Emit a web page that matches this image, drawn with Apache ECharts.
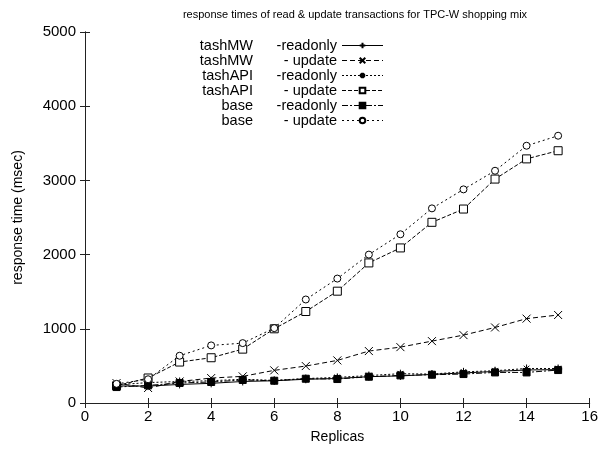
<!DOCTYPE html>
<html>
<head>
<meta charset="utf-8">
<script src="https://cdn.jsdelivr.net/npm/echarts@6/dist/echarts.min.js"></script>
<style>
  html, body { margin: 0; padding: 0; background: #fff; }
  #chart { width: 601px; height: 450px; }
</style>
</head>
<body>
<div id="chart"></div>
<script>
// Response times (msec) per number of replicas, TPC-W shopping mix
const replicas = [1, 2, 3, 4, 5, 6, 7, 8, 9, 10, 11, 12, 13, 14, 15];
const tashMWReadonly  = [230, 228, 250, 265, 290, 300, 320, 330, 355, 365, 385, 405, 425, 445, 450];
const tashMWUpdate    = [268, 202, 290, 336, 359, 440, 498, 574, 700, 753, 834, 915, 1018, 1137, 1186];
const tashAPIReadonly = [245, 275, 290, 300, 320, 305, 330, 345, 370, 395, 390, 420, 435, 465, 465];
const tashAPIUpdate   = [232, 337, 552, 610, 726, 1000, 1233, 1507, 1888, 2090, 2435, 2614, 3018, 3290, 3400];
const baseReadonly    = [215, 237, 270, 283, 310, 300, 327, 323, 354, 372, 381, 390, 412, 412, 444];
const baseUpdate      = [258, 320, 637, 776, 807, 1009, 1395, 1677, 2000, 2274, 2623, 2879, 3130, 3467, 3602];

const xTicks = { min: 0, max: 16, interval: 2 };
const yTicks = { min: 0, max: 5000, interval: 1000 };

const FONT = '"Liberation Sans", Arial, sans-serif';

const plusPath = 'path://M0,5L10,5M5,0L5,10';
const crossPath = 'path://M0,0L10,10M0,10L10,0';
const starPath = 'path://M0,5L10,5M5,0L5,10M1.5,1.5L8.5,8.5M1.5,8.5L8.5,1.5';

function pairs(values) {
  return replicas.map((r, i) => [r, values[i]]);
}

function lineSeries(name, values, symbol, size, dash, fill) {
  return {
    name: name,
    type: 'line',
    data: pairs(values),
    symbol: symbol,
    symbolSize: size,
    showSymbol: true,
    lineStyle: { color: '#000', width: 1, type: dash },
    itemStyle: { color: fill, borderColor: '#000', borderWidth: 1 },
    emphasis: { disabled: true },
    z: 3
  };
}

const series = [
  lineSeries('tashMW|-readonly', tashMWReadonly, plusPath, 8, 'solid', '#000'),
  lineSeries('tashMW|- update', tashMWUpdate, crossPath, 8, [5, 3], '#000'),
  lineSeries('tashAPI|-readonly', tashAPIReadonly, starPath, 8, [2, 2], '#000'),
  lineSeries('tashAPI|- update', tashAPIUpdate, 'rect', 8, [4, 2], '#fff'),
  lineSeries('base|-readonly', baseReadonly, 'rect', 7, [6, 2, 2, 2], '#000'),
  lineSeries('base|- update', baseUpdate, 'circle', 7, [2, 3], '#fff')
];

const chart = echarts.init(document.getElementById('chart'), null, { renderer: 'canvas' });

const axisLine = { show: true, lineStyle: { color: '#222', width: 1 } };
const tickIn = { show: true, inside: true, length: 5, lineStyle: { color: '#222', width: 1 } };
const plainNumber = v => String(v);

chart.setOption({
  animation: false,
  backgroundColor: '#fff',
  textStyle: { fontFamily: FONT },
  title: {
    text: 'response times of read & update transactions for TPC-W shopping mix',
    left: 350,
    textAlign: 'center',
    top: 4,
    textStyle: { fontFamily: FONT, fontSize: 11, fontWeight: 'normal', color: '#000' }
  },
  grid: { left: 85, right: 8, top: 32, bottom: 47, containLabel: false },
  legend: {
    orient: 'vertical',
    left: 183,
    top: 38,
    padding: 0,
    itemGap: 0,
    itemWidth: 41,
    itemHeight: 7,
    align: 'right',
    selectedMode: false,
    lineStyle: { width: 1 },
    formatter: function (name) {
      const parts = name.split('|');
      return '{a|' + parts[0] + '}{b|' + parts[1] + '}';
    },
    textStyle: {
      fontFamily: FONT,
      fontSize: 14.5,
      color: '#000',
      lineHeight: 14,
      rich: {
        a: { width: 70, align: 'right', fontSize: 14.5, lineHeight: 14, fontFamily: FONT },
        b: { width: 84, align: 'right', fontSize: 14.5, lineHeight: 14, fontFamily: FONT }
      }
    },
    data: series.map(s => s.name)
  },
  xAxis: [
    {
      type: 'value',
      position: 'bottom',
      min: xTicks.min, max: xTicks.max, interval: xTicks.interval,
      name: 'Replicas',
      nameLocation: 'middle',
      nameGap: 27,
      nameTextStyle: { fontFamily: FONT, fontSize: 14, color: '#000' },
      axisLine: axisLine,
      axisTick: tickIn,
      axisLabel: { fontFamily: FONT, fontSize: 15, color: '#000', margin: 6, formatter: plainNumber },
      splitLine: { show: false }
    },
    {
      type: 'value',
      position: 'top',
      min: xTicks.min, max: xTicks.max, interval: xTicks.interval,
      axisLine: axisLine,
      axisTick: tickIn,
      axisLabel: { show: false },
      splitLine: { show: false }
    }
  ],
  yAxis: [
    {
      type: 'value',
      position: 'left',
      min: yTicks.min, max: yTicks.max, interval: yTicks.interval,
      name: 'response time (msec)',
      nameLocation: 'middle',
      nameGap: 60,
      nameTextStyle: { fontFamily: FONT, fontSize: 14, color: '#000' },
      axisLine: axisLine,
      axisTick: tickIn,
      axisLabel: { fontFamily: FONT, fontSize: 15, color: '#000', margin: 9, formatter: plainNumber },
      splitLine: { show: false }
    },
    {
      type: 'value',
      position: 'right',
      min: yTicks.min, max: yTicks.max, interval: yTicks.interval,
      axisLine: axisLine,
      axisTick: tickIn,
      axisLabel: { show: false },
      splitLine: { show: false }
    }
  ],
  series: series
});
</script>
</body>
</html>
